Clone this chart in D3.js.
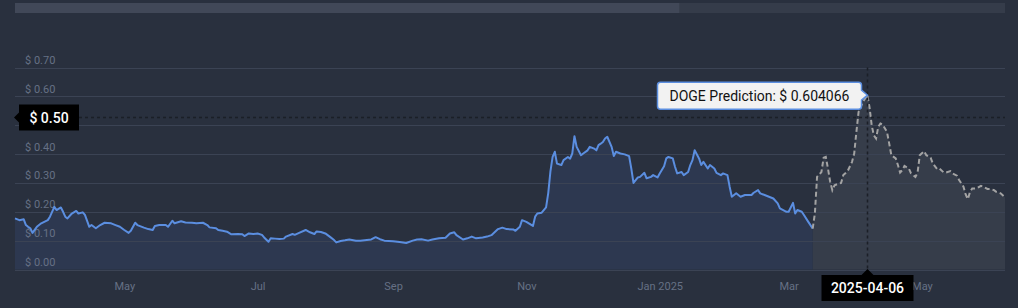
<!DOCTYPE html>
<html><head><meta charset="utf-8">
<script src="https://cdn.jsdelivr.net/npm/d3@7"></script>
<style>html,body{margin:0;padding:0;background:#29303e;overflow:hidden}svg{display:block;font-family:Roboto,sans-serif}</style>
</head><body><svg id="c" width="1018" height="308"></svg>
<script>
const startDate = "2024-03-12";
const histDays = [0,2,4,5,6,7,8,10,12,15,16,18,19,21,22,23,24,26,28,29,31,32,34,35,37,39,41,44,46,48,50,52,53,55,56,59,61,63,64,66,69,70,72,73,76,78,81,83,86,88,89,92,93,95,97,99,102,104,105,107,109,111,113,114,116,117,119,121,123,124,127,128,130,133,135,137,138,140,142,144,146,147,149,151,153,156,158,163,165,167,169,173,176,179,182,184,186,189,191,194,197,199,201,202,205,207,209,211,214,216,218,221,223,225,228,229,231,232,234,237,238,239,241,243,244,245,246,247,248,250,251,253,254,255,256,257,259,260,262,263,265,266,267,268,269,270,271,273,274,275,277,279,281,282,283,285,286,288,289,291,292,294,295,297,298,299,301,302,303,305,306,308,309,310,311,313,314,315,317,318,320,321,323,324,326,327,328,330,332,334,337,338,340,341,343,345,347,349,350,353,354,356,357,358,360,361,363,365];
const histValues = [0.177,0.171,0.174,0.154,0.148,0.143,0.127,0.148,0.160,0.171,0.183,0.217,0.206,0.215,0.200,0.183,0.177,0.194,0.203,0.194,0.198,0.189,0.148,0.154,0.143,0.154,0.162,0.160,0.154,0.148,0.137,0.127,0.134,0.162,0.154,0.145,0.140,0.137,0.151,0.154,0.154,0.148,0.169,0.160,0.167,0.163,0.162,0.160,0.162,0.154,0.146,0.143,0.137,0.134,0.131,0.122,0.123,0.122,0.116,0.125,0.123,0.125,0.120,0.111,0.096,0.108,0.107,0.106,0.107,0.114,0.123,0.120,0.127,0.137,0.129,0.123,0.132,0.130,0.125,0.114,0.102,0.094,0.099,0.101,0.104,0.100,0.100,0.104,0.112,0.105,0.100,0.098,0.095,0.092,0.100,0.104,0.105,0.100,0.104,0.108,0.110,0.125,0.129,0.119,0.104,0.108,0.114,0.108,0.111,0.114,0.119,0.140,0.145,0.140,0.139,0.134,0.148,0.171,0.165,0.151,0.183,0.194,0.197,0.215,0.265,0.340,0.390,0.408,0.367,0.362,0.379,0.390,0.384,0.402,0.462,0.425,0.396,0.402,0.413,0.425,0.419,0.413,0.431,0.436,0.442,0.454,0.460,0.425,0.393,0.408,0.402,0.399,0.393,0.350,0.300,0.319,0.321,0.335,0.316,0.321,0.327,0.319,0.333,0.358,0.385,0.390,0.385,0.356,0.333,0.338,0.327,0.338,0.362,0.379,0.413,0.385,0.362,0.373,0.350,0.362,0.350,0.335,0.327,0.333,0.327,0.287,0.252,0.264,0.252,0.258,0.258,0.266,0.275,0.264,0.258,0.252,0.246,0.229,0.212,0.200,0.200,0.231,0.194,0.206,0.200,0.189,0.165,0.142];
const predDays = [365,366,367,368,369,370,371,372,373,374,375,377,378,379,381,383,384,385,386,388,390,391,392,393,394,395,396,397,399,400,401,403,404,405,406,407,409,410,412,413,414,416,417,419,420,422,423,425,426,428,429,431,432,434,435,436,437,438,440,442,443,445,446,448,449,451,453];
const predValues = [0.142,0.194,0.321,0.329,0.338,0.387,0.390,0.350,0.304,0.275,0.292,0.298,0.300,0.327,0.341,0.373,0.402,0.477,0.546,0.581,0.604066,0.563,0.500,0.465,0.454,0.494,0.506,0.502,0.477,0.437,0.396,0.385,0.362,0.336,0.344,0.359,0.350,0.333,0.321,0.336,0.396,0.410,0.396,0.387,0.367,0.348,0.350,0.336,0.336,0.341,0.333,0.325,0.310,0.287,0.260,0.244,0.269,0.281,0.281,0.290,0.287,0.279,0.279,0.275,0.269,0.264,0.250];
const yTicks = [0,0.1,0.2,0.3,0.4,0.5,0.6,0.7];
const xTickDates = ["2024-05-01","2024-07-01","2024-09-01","2024-11-01","2025-01-01","2025-03-01","2025-05-01"];
const xTickLabels = ["May","Jul","Sep","Nov","Jan 2025","Mar","May"];
const seriesName = "DOGE Prediction";
const hoverDate = "2025-04-06";
const hoverYValue = 0.529;
const hoverYLabel = "$ 0.50";
const scrollThumb = [0, 0.671];

const W = 1018, H = 308;
const L = 15, R = 1005, T = 67.5, B = 269.5;
const parse = d3.utcParse("%Y-%m-%d");
const start = parse(startDate);
const toDate = d => d3.utcDay.offset(start, d);
const hist = histDays.map((d, i) => ({date: toDate(d), v: histValues[i]}));
const pred = predDays.map((d, i) => ({date: toDate(d), v: predValues[i]}));

const x = d3.scaleUtc().domain([start, toDate(d3.max(predDays))]).range([L, R]);
const y = d3.scaleLinear().domain([0, 0.7]).range([B, T]);

const svg = d3.select("#c");
svg.append("rect").attr("width", W).attr("height", H).attr("fill", "#29303e");

// scrollbar
svg.append("rect").attr("x", L).attr("y", 3).attr("width", R - L).attr("height", 10).attr("fill", "#353c4a");
svg.append("rect").attr("x", L + scrollThumb[0] * (R - L)).attr("y", 3)
  .attr("width", (scrollThumb[1] - scrollThumb[0]) * (R - L)).attr("height", 10).attr("fill", "#414858");

// areas (under grid)
const area = d3.area().x(d => x(d.date)).y0(B).y1(d => y(d.v));
svg.append("path").datum(pred).attr("d", area).attr("fill", "#363d4a");
svg.append("path").datum(hist).attr("d", area).attr("fill", "#2d3850");

// grid + y labels
const hoverTick = Math.round(hoverYValue * 10) / 10;
const yAxis = d3.axisLeft(y).tickValues(yTicks).tickSize(-(R - L)).tickFormat(d => "$ " + d.toFixed(2));
const gy = svg.append("g").attr("transform", `translate(${L},0)`).call(yAxis);
gy.select(".domain").remove();
gy.selectAll(".tick line").attr("stroke", "#3b4354").attr("stroke-width", 1).attr("shape-rendering", "crispEdges");
gy.selectAll(".tick text").attr("x", 10).attr("dy", "-4").attr("text-anchor", "start")
  .attr("fill", "#667085").attr("font-size", "11px").attr("font-family", "Roboto, sans-serif");
// the tick label hidden under the crosshair label box
gy.selectAll(".tick text").filter(d => Math.abs(d - hoverTick) < 1e-9).remove();

// lines
const line = d3.line().x(d => x(d.date)).y(d => y(d.v));
svg.append("path").datum(hist).attr("d", line).attr("fill", "none").attr("stroke", "#5b8ee0").attr("stroke-width", 2).attr("stroke-linejoin", "round");
svg.append("path").datum(pred).attr("d", line).attr("fill", "none").attr("stroke", "#a3a3a3").attr("stroke-width", 2).attr("stroke-dasharray", "5,3");

// x axis labels
const xAxis = d3.axisBottom(x).tickValues(xTickDates.map(parse)).tickSize(0).tickFormat((d, i) => xTickLabels[i]);
const gx = svg.append("g").attr("transform", `translate(0,${B})`).call(xAxis);
gx.select(".domain").remove();
gx.selectAll(".tick text").attr("y", 20.5).attr("dy", 0).attr("fill", "#667085").attr("font-size", "11px").attr("font-family", "Roboto, sans-serif");

// crosshairs
const hp = pred.find(p => +p.date === +parse(hoverDate));
const hx = Math.round(x(hp.date)) + 0.5;
const hyy = Math.round(y(hoverYValue)) + 0.5;
svg.append("line").attr("x1", hx).attr("x2", hx).attr("y1", T).attr("y2", B)
  .attr("stroke", "#1b1f27").attr("stroke-width", 1.5).attr("stroke-dasharray", "3,3");
svg.append("line").attr("x1", 79).attr("x2", R).attr("y1", hyy).attr("y2", hyy)
  .attr("stroke", "#1b1f27").attr("stroke-width", 1.5).attr("stroke-dasharray", "3,3");

// y crosshair label
const yl = svg.append("g");
yl.append("path").attr("d", `M19,${hyy-13}H79V${hyy+13}H19V${hyy+5}L14,${hyy}L19,${hyy-5}Z`).attr("fill", "#000");
yl.append("text").attr("x", 49).attr("y", hyy + 5).attr("text-anchor", "middle").attr("fill", "#fff")
  .attr("font-size", "14px").attr("font-weight", 500).text(hoverYLabel);

// x crosshair label
const xl = svg.append("g");
xl.append("path").attr("d", `M${hx-46},275H${hx-6}L${hx},269L${hx+6},275H${hx+46}V301H${hx-46}Z`).attr("fill", "#000");
xl.append("text").attr("x", hx).attr("y", 293).attr("text-anchor", "middle").attr("fill", "#fff")
  .attr("font-size", "14px").attr("font-weight", 500).text(hoverDate);

// tooltip
const py = y(hp.v);
const tt = svg.append("g");
const bx0 = hx - 210, bx1 = hx - 6, by0 = py - 13, by1 = py + 14;
tt.append("path").attr("d", `M${bx0+3},${by0}H${bx1-3}Q${bx1},${by0} ${bx1},${by0+3}V${py-5}L${hx},${py}L${bx1},${py+5}V${by1-3}Q${bx1},${by1} ${bx1-3},${by1}H${bx0+3}Q${bx0},${by1} ${bx0},${by1-3}V${by0+3}Q${bx0},${by0} ${bx0+3},${by0}Z`)
  .attr("fill", "#f2f2f2").attr("stroke", "#5b8ee0").attr("stroke-width", 1.5);
tt.append("text").attr("x", (bx0 + bx1) / 2).attr("y", py + 5.5).attr("text-anchor", "middle").attr("fill", "#111")
  .attr("font-size", "14px").text(`${seriesName}: $ ${hp.v.toFixed(6)}`);
</script></body></html>
